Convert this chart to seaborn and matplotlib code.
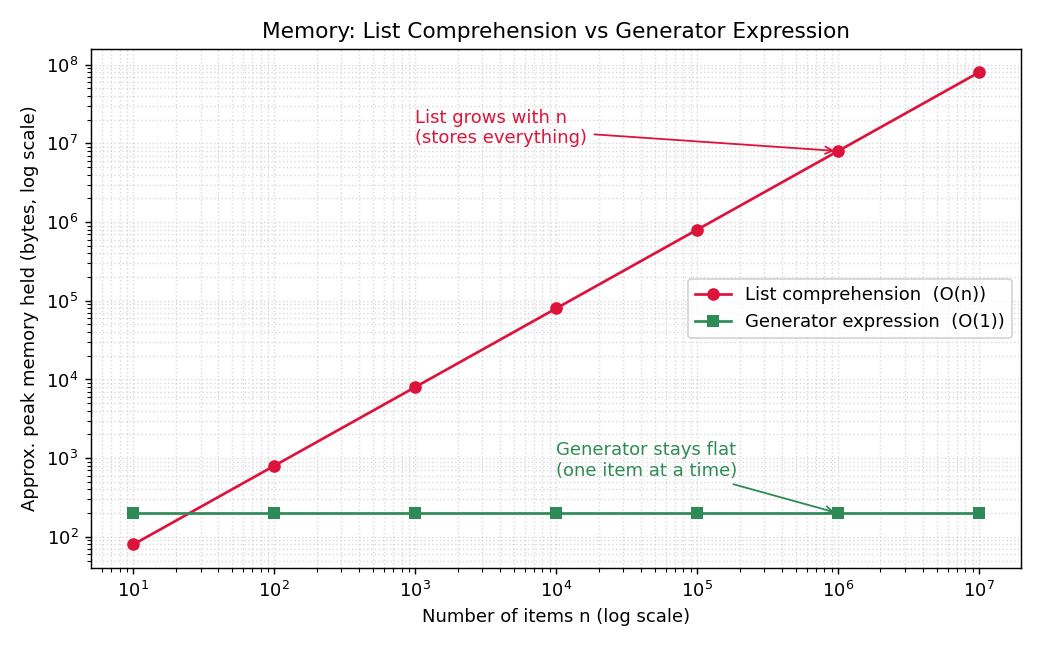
import matplotlib
matplotlib.use("Agg")
import matplotlib.pyplot as plt
import pandas as pd
import seaborn as sns

# Data
n_values = [10, 100, 1000, 10000, 100000, 1000000, 10000000]
list_bytes = [80, 800, 8000, 80000, 800000, 8000000, 80000000]
gen_bytes = [200, 200, 200, 200, 200, 200, 200]
list_label = "List comprehension  (O(n))"
gen_label = "Generator expression  (O(1))"

df = pd.DataFrame({
    "n": n_values + n_values,
    "bytes": list_bytes + gen_bytes,
    "kind": [list_label] * len(n_values) + [gen_label] * len(n_values),
})

fig, ax = plt.subplots(figsize=(8, 5), dpi=130)
sns.lineplot(data=df, x="n", y="bytes", hue="kind", style="kind",
             palette={list_label: "crimson", gen_label: "seagreen"},
             markers={list_label: "o", gen_label: "s"},
             dashes=False, markersize=7, markeredgewidth=0,
             linewidth=1.5, ax=ax)
ax.set_xscale("log")
ax.set_yscale("log")
ax.grid(True, which="both", linestyle=":", color="lightgray", alpha=0.8)

ax.annotate("List grows with n\n(stores everything)", xy=(1e6, 8e6), xytext=(1e3, 1e7),
            color="crimson", fontsize=10,
            arrowprops=dict(arrowstyle="->", color="crimson", lw=1))
ax.annotate("Generator stays flat\n(one item at a time)", xy=(1e6, 200), xytext=(1e4, 600),
            color="seagreen", fontsize=10,
            arrowprops=dict(arrowstyle="->", color="seagreen", lw=1))

ax.set_title("Memory: List Comprehension vs Generator Expression", fontsize=12)
ax.set_xlabel("Number of items n (log scale)")
ax.set_ylabel("Approx. peak memory held (bytes, log scale)")
ax.legend(title=None, loc="center right")

fig.subplots_adjust(left=0.0875, right=0.982, top=0.925, bottom=0.126)
plt.savefig("out.png")
